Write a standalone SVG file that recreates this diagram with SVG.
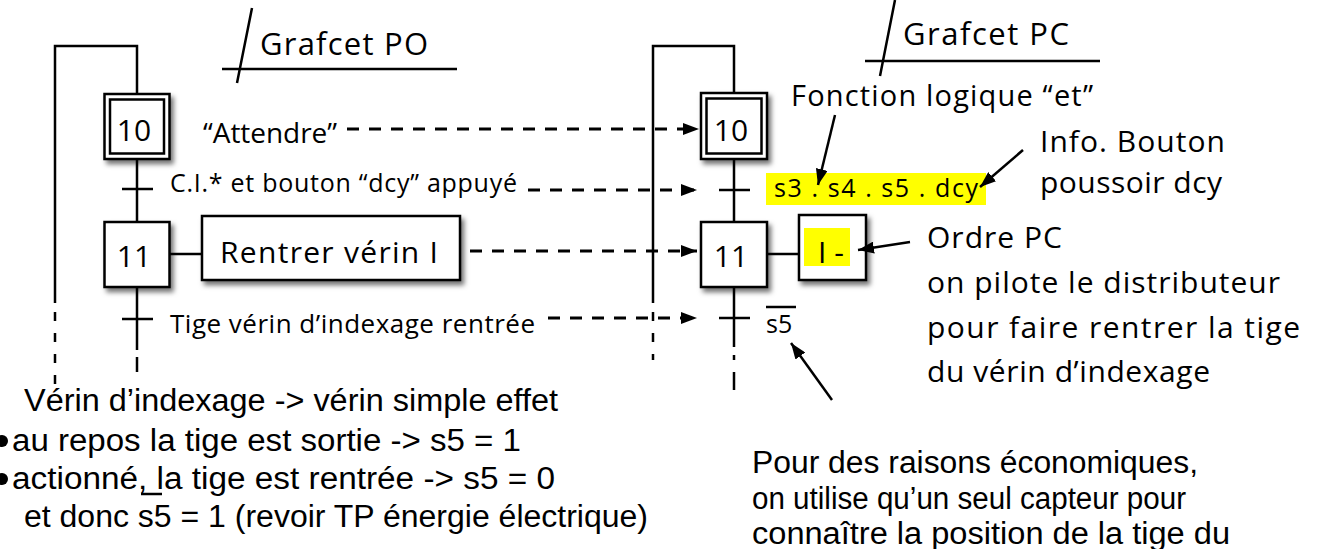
<svg xmlns="http://www.w3.org/2000/svg" width="1321" height="549" viewBox="0 0 1321 549">
  <defs>
    <marker id="ah" viewBox="0 0 16 12" refX="16" refY="6" markerWidth="16" markerHeight="12" markerUnits="userSpaceOnUse" orient="auto">
      <path d="M0,0 L16,6 L0,12 z" fill="#000"/>
    </marker>
    <filter id="sh" x="-20%" y="-20%" width="150%" height="150%">
      <feDropShadow dx="3" dy="4" stdDeviation="2.5" flood-color="#000" flood-opacity="0.55"/>
    </filter>
  </defs>
  <style>
    .ln{stroke:#000;stroke-width:2.5;fill:none}
    .dl{stroke:#000;stroke-width:2.5;fill:none;stroke-dasharray:9 12}
    .da{stroke:#000;stroke-width:3;fill:none;stroke-dasharray:12 10;marker-end:url(#ah)}
    .ar{stroke:#000;stroke-width:2.5;fill:none;marker-end:url(#ah)}
    .box{fill:#fff;stroke:#000;stroke-width:2.5}
    .t{font-family:"Open Sans","DejaVu Sans",sans-serif;fill:#000}
    .n{font-family:"Liberation Sans Narrow","Liberation Sans",sans-serif;fill:#000;font-size:31px}
    .hl{fill:#ffff00}
  </style>
  <rect width="1321" height="549" fill="#fff"/>

  <!-- Grafcet PO title -->
  <g id="title-po">
    <path class="ln" d="M252,8 L237,83 M222,69 H457"/>
    <text class="t" x="260" y="55" font-size="31" textLength="168" lengthAdjust="spacing">Grafcet PO</text>
  </g>

  <!-- Grafcet PC title -->
  <g id="title-pc">
    <path class="ln" d="M895,0 L880,76 M865,61 H1100"/>
    <text class="t" x="903" y="45" font-size="31" textLength="166" lengthAdjust="spacing">Grafcet PC</text>
  </g>

  <!-- PO links -->
  <g id="po-links">
    <path class="ln" d="M137,94 V46 H55 V303"/>
    <path class="dl" d="M55,312 V392"/>
    <path class="ln" d="M137,159 V222 M137,287 V350"/>
    <path class="ln" d="M137,357 V372"/>
    <path class="ln" d="M122,189 H153 M122,319 H153"/>
    <path class="ln" d="M170,254 H202"/>
  </g>

  <g id="po-step10">
    <rect class="box" x="104.5" y="94" width="65" height="65" filter="url(#sh)"/>
    <rect class="box" x="110" y="99.5" width="54" height="54"/>
    <text class="t" x="134" y="141" font-size="30" text-anchor="middle">10</text>
  </g>
  <g id="po-step11">
    <rect class="box" x="104.5" y="222" width="65" height="65" filter="url(#sh)"/>
    <text class="t" x="134" y="267" font-size="30" text-anchor="middle">11</text>
  </g>
  <g id="po-action11">
    <rect class="box" x="202" y="216" width="258" height="64" filter="url(#sh)"/>
    <text class="t" x="220" y="263" font-size="30" textLength="218" lengthAdjust="spacing">Rentrer vérin I</text>
  </g>
  <g id="po-labels">
    <text class="t" x="203" y="143" font-size="28" textLength="134" lengthAdjust="spacing">“Attendre”</text>
    <text class="t" x="170" y="192" font-size="25" textLength="347" lengthAdjust="spacing">C.I.* et bouton “dcy” appuyé</text>
    <text class="t" x="170" y="333" font-size="26" textLength="365" lengthAdjust="spacing">Tige vérin d’indexage rentrée</text>
  </g>

  <!-- PC links -->
  <g id="pc-links">
    <path class="ln" d="M734,93 V46 H653 V303"/>
    <path class="dl" d="M653,312 V360"/>
    <path class="ln" d="M734,160 V222 M734,287 V347"/>
    <path class="ln" d="M734,355 V360 M734,372 V390"/>
    <path class="ln" d="M719,190 H750 M719,318 H750"/>
    <path class="ln" d="M767,254 H799"/>
  </g>

  <g id="pc-step10">
    <rect class="box" x="701" y="93" width="66" height="66" filter="url(#sh)"/>
    <rect class="box" x="706.5" y="98.5" width="55" height="55"/>
    <text class="t" x="731" y="141" font-size="30" text-anchor="middle">10</text>
  </g>
  <g id="pc-step11">
    <rect class="box" x="701" y="222" width="66" height="65" filter="url(#sh)"/>
    <text class="t" x="731" y="267" font-size="30" text-anchor="middle">11</text>
  </g>
  <g id="pc-action11">
    <rect class="box" x="799" y="215" width="67" height="65" filter="url(#sh)"/>
    <rect class="hl" x="804" y="228" width="46" height="38"/>
    <text class="t" x="818" y="263" font-size="30">I -</text>
  </g>
  <g id="pc-receptivity1">
    <rect class="hl" x="766" y="173" width="220" height="32"/>
    <text class="t" x="774" y="197" font-size="25" textLength="204" lengthAdjust="spacing">s3 . s4 . s5 . dcy</text>
  </g>
  <g id="pc-receptivity2">
    <path class="ln" d="M766,307 H796" stroke-width="2"/>
    <text class="t" x="766" y="333" font-size="25">s5</text>
  </g>

  <!-- correspondence arrows PO -> PC -->
  <g id="connectors">
    <path class="da" d="M347,129 H699"/>
    <path class="da" d="M528,190 H697"/>
    <path class="da" d="M470,251 H697"/>
    <path class="da" d="M548,318 H697"/>
    <path class="ar" d="M835,115 L818,185"/>
    <path class="ar" d="M1023,150 L980,187"/>
    <path class="ar" d="M910,242 L858,250"/>
    <path class="ar" d="M832,400 L791,343"/>
  </g>

  <!-- annotations -->
  <g id="note-and">
    <text class="t" x="791" y="106" font-size="29" textLength="302" lengthAdjust="spacing">Fonction logique “et”</text>
  </g>
  <g id="note-dcy">
    <text class="t" x="1040" y="152" font-size="30" textLength="185" lengthAdjust="spacing">Info. Bouton</text>
    <text class="t" x="1040" y="193" font-size="30" textLength="182" lengthAdjust="spacing">poussoir dcy</text>
  </g>
  <g id="note-order">
    <text class="t" x="927" y="248" font-size="30" textLength="135" lengthAdjust="spacing">Ordre PC</text>
    <text class="t" x="927" y="293" font-size="30" textLength="353" lengthAdjust="spacing">on pilote le distributeur</text>
    <text class="t" x="927" y="338" font-size="30" textLength="373" lengthAdjust="spacing">pour faire rentrer la tige</text>
    <text class="t" x="927" y="382" font-size="30" textLength="283" lengthAdjust="spacing">du vérin d’indexage</text>
  </g>
  <g id="note-verin">
    <text class="n" x="24" y="411" textLength="534" lengthAdjust="spacingAndGlyphs">Vérin d’indexage -&gt; vérin simple effet</text>
    <circle cx="2" cy="441" r="6"/>
    <text class="n" x="12" y="451" textLength="509" lengthAdjust="spacingAndGlyphs">au repos la tige est sortie -&gt; s5 = 1</text>
    <circle cx="2" cy="479" r="6"/>
    <text class="n" x="12" y="489" textLength="543" lengthAdjust="spacingAndGlyphs">actionné, la tige est rentrée -&gt; s5 = 0</text>
    <path class="ln" d="M141,494 H162"/>
    <text class="n" x="24" y="527" textLength="624" lengthAdjust="spacingAndGlyphs">et donc s5 = 1 (revoir TP énergie électrique)</text>
  </g>
  <g id="note-sensor">
    <text class="n" x="752" y="473" textLength="446" lengthAdjust="spacingAndGlyphs">Pour des raisons économiques,</text>
    <text class="n" x="752" y="509" textLength="434" lengthAdjust="spacingAndGlyphs">on utilise qu’un seul capteur pour</text>
    <text class="n" x="752" y="544" textLength="478" lengthAdjust="spacingAndGlyphs">connaître la position de la tige du</text>
  </g>
</svg>
